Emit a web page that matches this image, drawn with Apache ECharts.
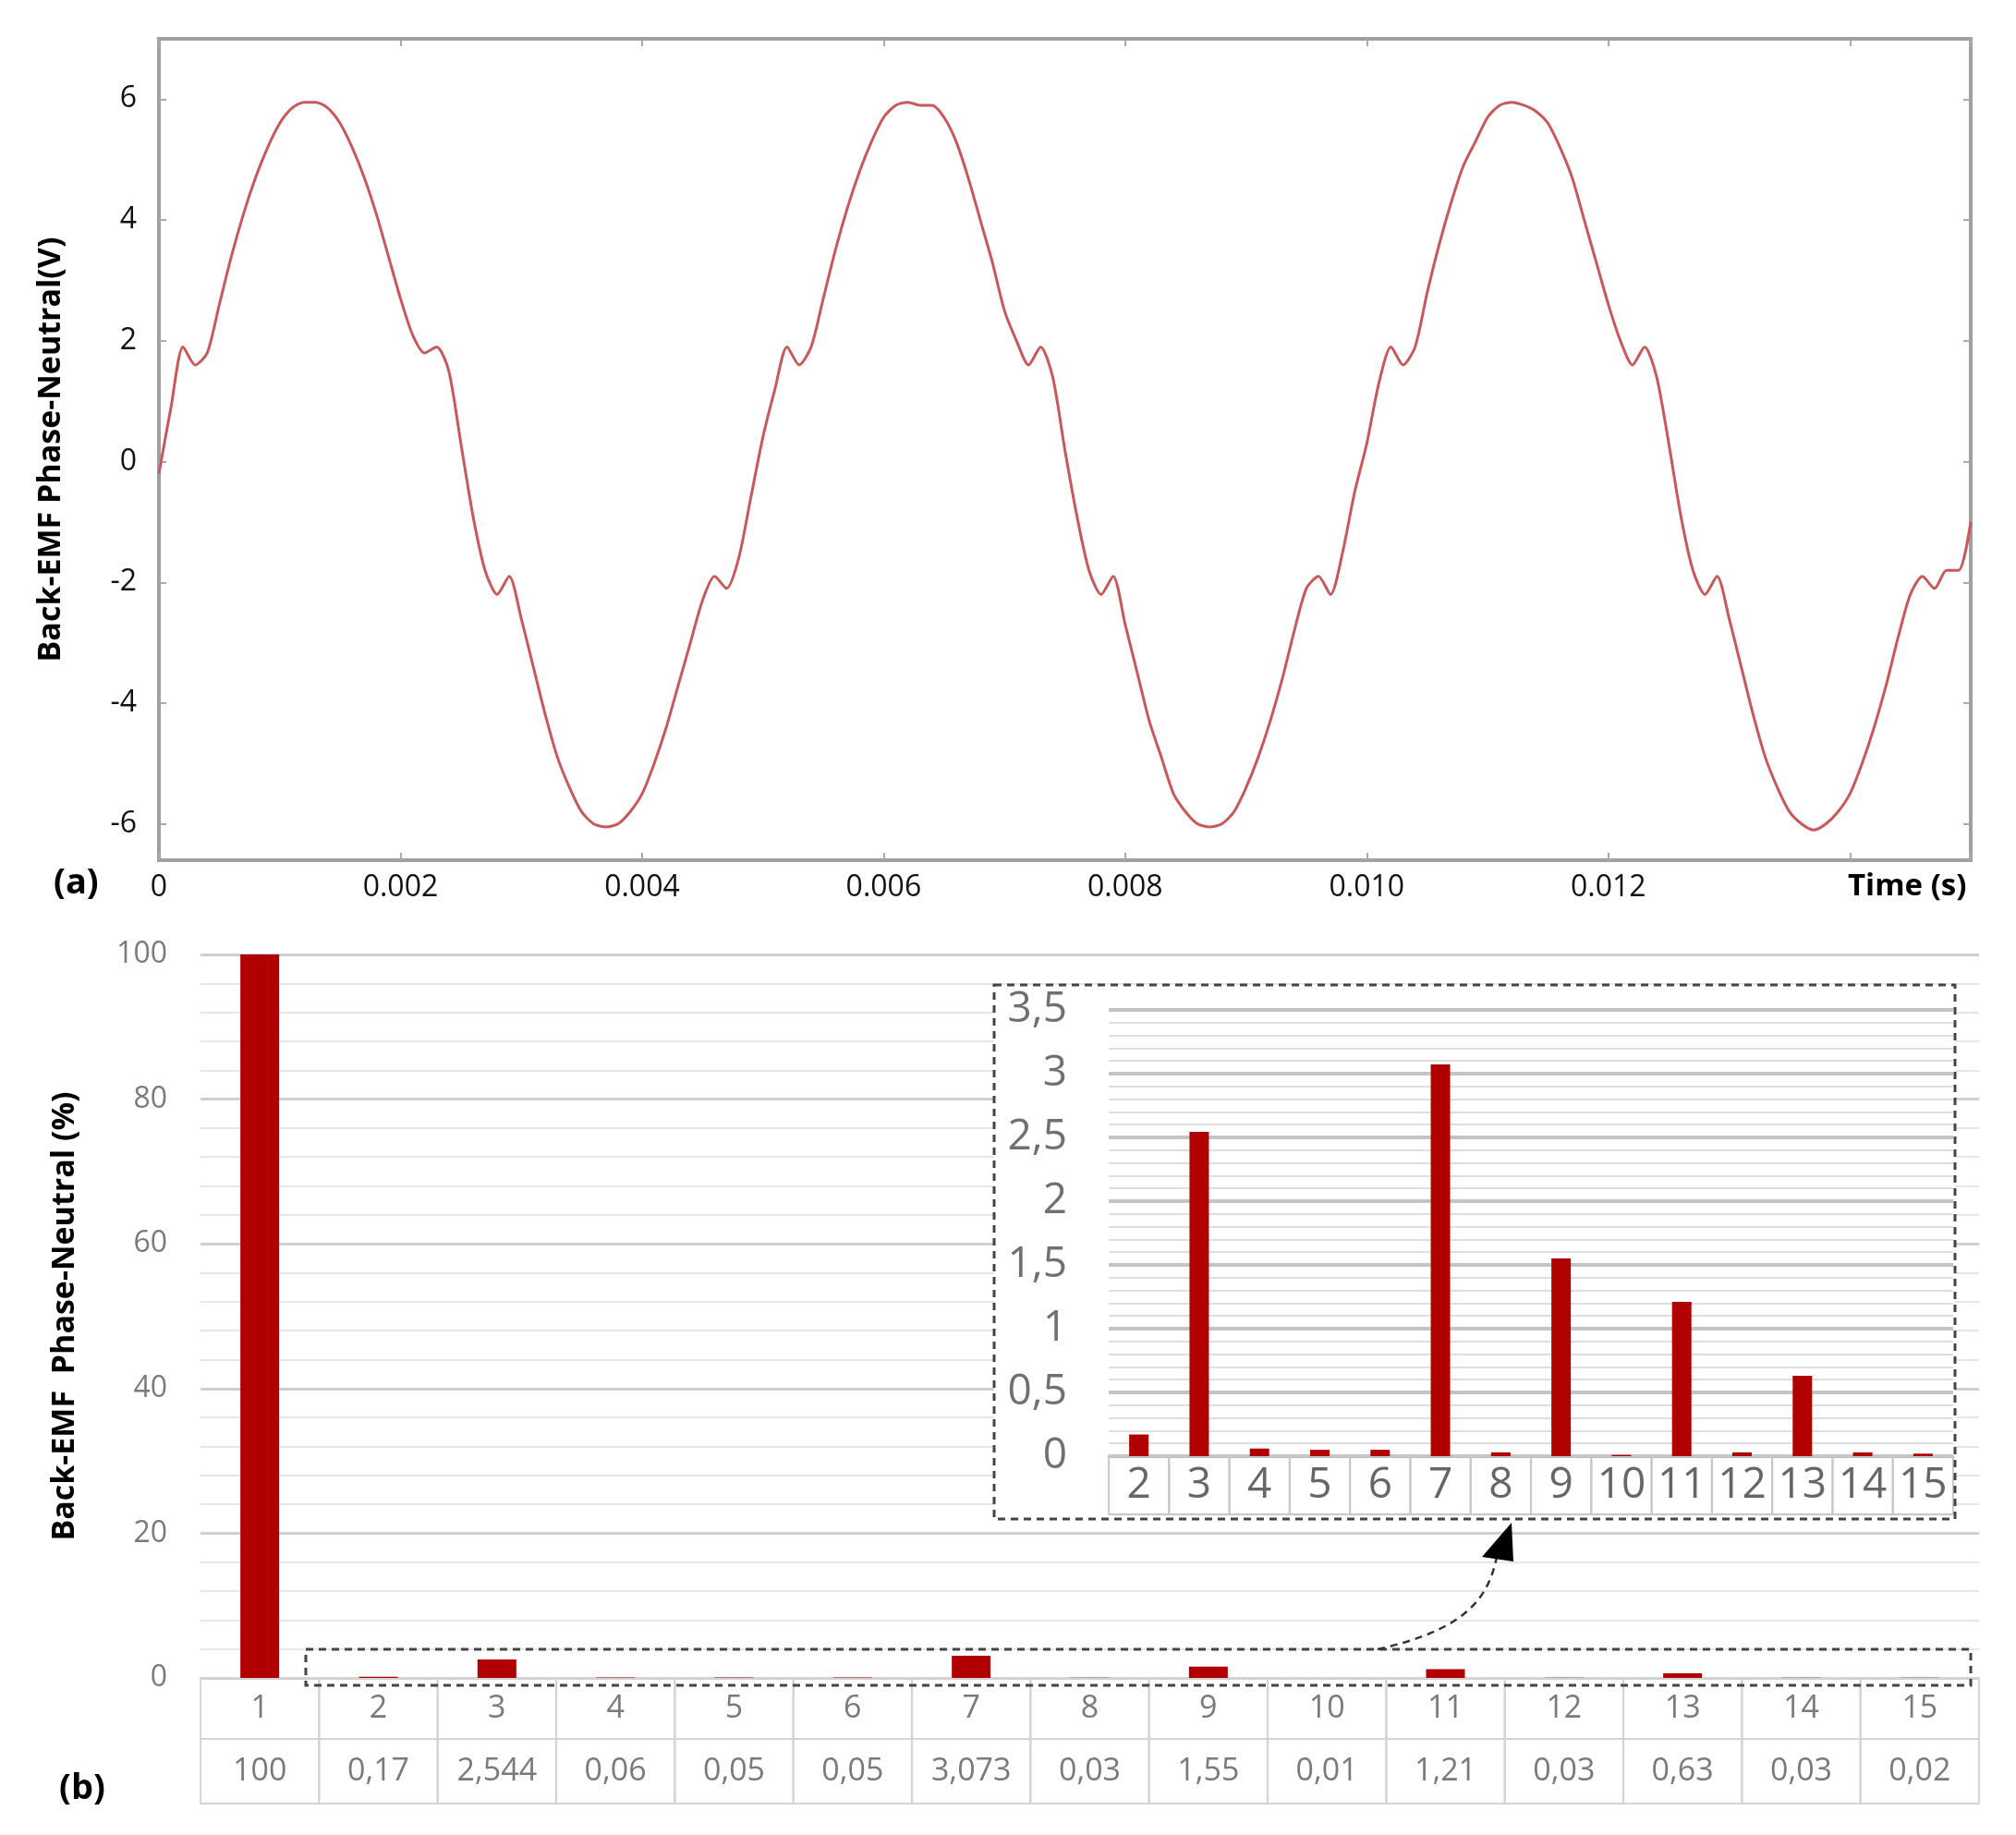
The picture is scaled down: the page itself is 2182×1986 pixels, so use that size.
<!DOCTYPE html>
<html><head><meta charset="utf-8">
<script src="https://cdn.jsdelivr.net/npm/echarts@6/dist/echarts.min.js"></script>
<style>html,body{margin:0;padding:0;background:#fff}#c{width:2182px;height:1986px}</style>
</head><body><div id="c"></div>
<script>
// Back-EMF waveform samples, dt = 0.0001 s
const dt = 0.0001;
const emf = [
-0.2,0.9,1.9,1.6,1.8,2.6,3.4,4.1,4.7,5.2,5.6,5.85,5.95,5.95,5.85,5.6,5.2,4.7,4.1,3.4,2.7,2.1,1.8,1.9,1.5,0.3,-0.9,-1.8,-2.2,-1.9,-2.6,-3.4,-4.2,-4.9,-5.4,-5.8,-6.0,-6.05,-6.0,-5.8,-5.5,-5.0,-4.4,-3.7,-3.0,-2.3,-1.9,-2.1,-1.6,-0.6,
0.4,1.2,1.9,1.6,1.9,2.7,3.5,4.2,4.8,5.3,5.7,5.9,5.95,5.9,5.9,5.7,5.3,4.7,4.0,3.3,2.5,2.0,1.6,1.9,1.4,0.2,-0.9,-1.8,-2.2,-1.9,-2.7,-3.5,-4.3,-4.9,-5.5,-5.8,-6.0,-6.05,-6.0,-5.8,-5.4,-4.9,-4.3,-3.6,-2.8,-2.1,-1.9,-2.2,-1.5,-0.5,
0.3,1.3,1.9,1.6,1.9,2.8,3.6,4.3,4.9,5.3,5.7,5.9,5.95,5.9,5.8,5.6,5.2,4.7,4.0,3.3,2.6,2.0,1.6,1.9,1.4,0.3,-0.9,-1.8,-2.2,-1.9,-2.6,-3.4,-4.2,-4.9,-5.4,-5.8,-6.0,-6.1,-6.0,-5.8,-5.5,-5.0,-4.4,-3.7,-2.9,-2.2,-1.9,-2.1,-1.8,-1.8,
-1.0];
const yTicksTop = [-6,-4,-2,0,2,4,6];
const harmonics = ['1','2','3','4','5','6','7','8','9','10','11','12','13','14','15'];
const harmonicPct = [100,0.17,2.544,0.06,0.05,0.05,3.073,0.03,1.55,0.01,1.21,0.03,0.63,0.03,0.02];
const insetCats = harmonics.slice(1);
const insetVals = harmonicPct.slice(1);

const chart = echarts.init(document.getElementById('c'));
const lineData = emf.map((v,i)=>[+(i*dt).toFixed(4), v]);
const fmt = v => String(v).replace('.', ',');
const narrow = '"Liberation Sans Narrow","Open Sans",sans-serif';
const idx = {};
harmonics.forEach((h,i)=>idx[h]=i);
const tickStyle = {inside:true,length:8,lineStyle:{color:'#aaa',width:2}};

chart.setOption({
  animation:false,
  graphic:[
    {type:'rect', z:1, shape:{x:1076,y:1066,width:1040,height:578}, style:{fill:'#fff'}},
    {type:'rect', z:50, shape:{x:1076,y:1066,width:1040,height:578}, style:{fill:'none',stroke:'#444',lineWidth:3,lineDash:[8,6]}},
    {type:'rect', z:50, shape:{x:331,y:1785,width:1802,height:39}, style:{fill:'none',stroke:'#444',lineWidth:3,lineDash:[8,6]}},
    {type:'bezierCurve', z:50, shape:{x1:1491,y1:1785,cpx1:1580,cpy1:1765,cpx2:1610,cpy2:1735,x2:1620,y2:1685}, style:{fill:'none',stroke:'#333',lineWidth:2.5,lineDash:[8,6]}},
    {type:'polygon', z:50, shape:{points:[[1636,1648],[1604,1685],[1638,1690]]}, style:{fill:'#000'}},
    {type:'text', left:58, top:937, style:{text:'(a)', font:'bold 38px "Open Sans"', fill:'#000'}},
    {type:'text', left:64, top:1917, style:{text:'(b)', font:'bold 38px "Open Sans"', fill:'#000'}},
    {type:'text', left:2000, top:943, style:{text:'Time (s)', font:'bold 33px "Open Sans"', fill:'#000'}}
  ],
  grid:[
    {left:172, right:49, top:42, height:889, show:true, borderColor:'#a0a0a0', borderWidth:4},
    {left:217, right:40, top:1033, height:783},
    {left:1200, right:68, top:1093, height:483, z:5}
  ],
  xAxis:[
    {gridIndex:0, type:'value', min:0, max:0.015, interval:0.002,
     axisLine:{show:false,onZero:false}, axisTick:tickStyle,
     splitLine:{show:false},
     axisLabel:{margin:14, fontSize:32, color:'#111', fontFamily:'Open Sans',
       formatter:v=> v===0?'0': (v>0.0135?'':v.toFixed(3))}},
    {gridIndex:1, type:'category', data:harmonics,
     axisLine:{lineStyle:{color:'#ccc',width:2}}, axisTick:{show:false},
     axisLabel:{margin:0, interval:0,
       formatter:(v)=>'{a|'+v+'}\n{b|'+fmt(harmonicPct[idx[v]])+'}',
       rich:{
         a:{width:128,height:66,align:'center',verticalAlign:'middle',fontSize:34,color:'#7a7a7a',fontFamily:narrow,borderColor:'#d4d4d4',borderWidth:2},
         b:{width:128,height:70,align:'center',verticalAlign:'middle',fontSize:34,color:'#7a7a7a',fontFamily:narrow,borderColor:'#d4d4d4',borderWidth:2}
       }}},
    {gridIndex:2, type:'category', data:insetCats, z:6,
     axisLine:{lineStyle:{color:'#bbb',width:3}}, axisTick:{show:false},
     axisLabel:{margin:0, interval:0,
       rich:{a:{width:65,height:63,align:'center',verticalAlign:'middle',fontSize:46,color:'#666',fontFamily:narrow,borderColor:'#c8c8c8',borderWidth:2}},
       formatter:v=>'{a|'+v+'}'}},
    {gridIndex:0, type:'value', position:'top', min:0, max:0.015, interval:0.002,
     axisLine:{show:false,onZero:false}, axisTick:tickStyle, axisLabel:{show:false}, splitLine:{show:false}}
  ],
  yAxis:[
    {gridIndex:0, type:'value', min:-6.6, max:7,
     axisLine:{show:false,onZero:false},
     axisTick:Object.assign({customValues:yTicksTop},tickStyle),
     splitLine:{show:false},
     axisLabel:{customValues:yTicksTop, margin:24, fontSize:32, color:'#111', fontFamily:'Open Sans'},
     name:'Back-EMF Phase-Neutral(V)', nameLocation:'middle', nameGap:100,
     nameTextStyle:{fontSize:34,fontWeight:'bold',color:'#000',fontFamily:'Open Sans'}},
    {gridIndex:1, type:'value', min:0, max:100, interval:20,
     axisLine:{show:false}, axisTick:{show:false},
     splitLine:{lineStyle:{color:'#cfcfcf',width:3}},
     minorTick:{show:false, splitNumber:5},
     minorSplitLine:{show:true, lineStyle:{color:'#e6e6e6',width:2}},
     axisLabel:{margin:36, fontSize:32, color:'#7a7a7a', fontFamily:narrow},
     name:'Back-EMF  Phase-Neutral (%)', nameLocation:'middle', nameGap:130,
     nameTextStyle:{fontSize:34,fontWeight:'bold',color:'#000',fontFamily:'Open Sans'}},
    {gridIndex:2, type:'value', min:0, max:3.5, interval:0.5, z:6,
     axisLine:{show:false}, axisTick:{show:false},
     splitLine:{lineStyle:{color:'#c4c4c4',width:4}},
     minorTick:{show:false, splitNumber:5},
     minorSplitLine:{show:true, lineStyle:{color:'#dedede',width:2}},
     axisLabel:{margin:45, fontSize:46, color:'#707070', fontFamily:narrow, formatter:v=>fmt(v)}},
    {gridIndex:0, type:'value', position:'right', min:-6.6, max:7,
     axisLine:{show:false,onZero:false},
     axisTick:Object.assign({customValues:yTicksTop},tickStyle),
     axisLabel:{show:false}, splitLine:{show:false}}
  ],
  series:[
    {type:'line', xAxisIndex:0, yAxisIndex:0, data:lineData, showSymbol:false, smooth:0.25,
     lineStyle:{color:'#c9585a', width:3}},
    {type:'bar', xAxisIndex:1, yAxisIndex:1, data:harmonicPct, barWidth:42, itemStyle:{color:'#b00000'}},
    {type:'bar', xAxisIndex:2, yAxisIndex:2, data:insetVals, barWidth:21, z:7, itemStyle:{color:'#b00000'}}
  ]
});
</script></body></html>
